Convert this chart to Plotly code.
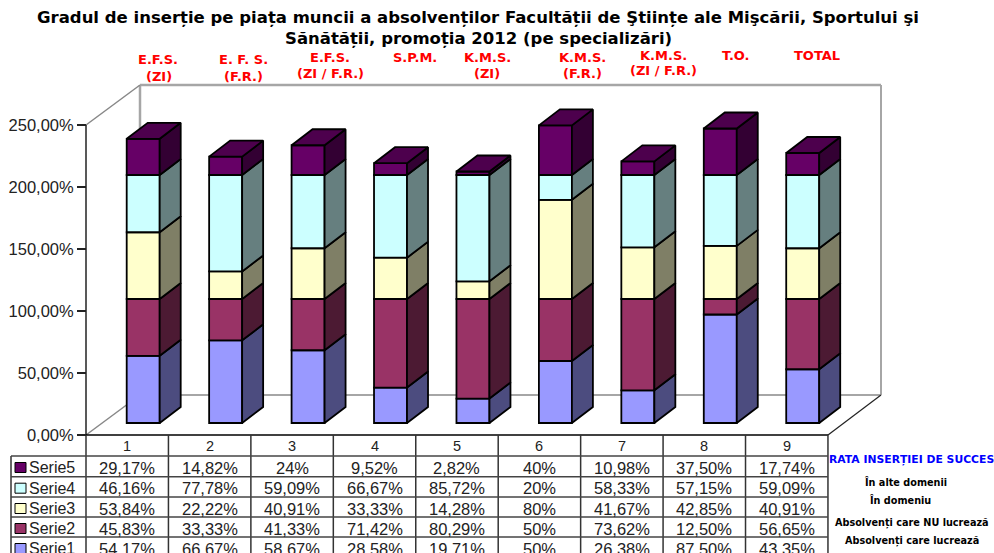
import plotly.graph_objects as go

categories = [1, 2, 3, 4, 5, 6, 7, 8, 9]
serie1 = [54.17, 66.67, 58.67, 28.58, 19.71, 50, 26.38, 87.50, 43.35]
serie2 = [45.83, 33.33, 41.33, 71.42, 80.29, 50, 73.62, 12.50, 56.65]
serie3 = [53.84, 22.22, 40.91, 33.33, 14.28, 80, 41.67, 42.85, 40.91]
serie4 = [46.16, 77.78, 59.09, 66.67, 85.72, 20, 58.33, 57.15, 59.09]
serie5 = [29.17, 14.82, 24, 9.52, 2.82, 40, 10.98, 37.50, 17.74]
series_names = ["Serie1", "Serie2", "Serie3", "Serie4", "Serie5"]
y_ticks = [0, 50, 100, 150, 200, 250]
y_tick_labels = ["0,00%", "50,00%", "100,00%", "150,00%", "200,00%", "250,00%"]
row_notes = ["Absolvenți care lucrează", "Absolvenți care NU lucrează", "În domeniu", "În alte domenii"]
title_lines = ["Gradul de inserție pe piața muncii a absolvenților Facultății de Ştiințe ale Mişcării, Sportului şi",
               "Sănătății, promoția 2012 (pe specializări)"]

series = [serie1, serie2, serie3, serie4, serie5]
front = ["#9999FF", "#993366", "#FFFFCC", "#CCFFFF", "#660066"]
side = ["#4C4C7F", "#4C1A33", "#7F7F66", "#667F7F", "#330033"]
top = "#4D004D"
FONT = "Liberation Sans"
BOLD = "DejaVu Sans"

W, H = 994, 553
X0, PXX = 127.2, 82.44      # pixel of category 1, pixels per category
Y0, PXY = 435.0, 1.24       # pixel of 0 %, pixels per %
dX = 16 / PXX; dV = 12 / PXY          # bar inset from the front of the floor
bw = 33 / PXX                         # bar width
depX = 21 / PXX; depV = 16 / PXY      # bar depth

def px(p): return p / W
def py(p): return 1 - p / H

fig = go.Figure()
cum = [0.0] * len(categories)
for k, vals in enumerate(series):
    fig.add_bar(x=[c + dX for c in categories], y=vals,
                base=[b + dV for b in cum], width=bw, name=series_names[k],
                marker=dict(color=front[k], line=dict(color="black", width=1.8)),
                showlegend=False, hoverinfo="skip")
    xs, ys = [], []
    for c, b, v in zip(categories, cum, vals):
        r = c + dX + bw / 2
        lo, hi = b + dV, b + v + dV
        xs += [r, r + depX, r + depX, r, r, None]
        ys += [lo, lo + depV, hi + depV, hi, lo, None]
    fig.add_scatter(x=xs, y=ys, mode="lines", fill="toself", fillcolor=side[k],
                    line=dict(color="black", width=1.8), showlegend=False, hoverinfo="skip")
    cum = [b + v for b, v in zip(cum, vals)]

xs, ys = [], []
for c, t in zip(categories, cum):
    l = c + dX - bw / 2
    r = c + dX + bw / 2
    hi = t + dV
    xs += [l, r, r + depX, l + depX, l, None]
    ys += [hi, hi, hi + depV, hi + depV, hi, None]
fig.add_scatter(x=xs, y=ys, mode="lines", fill="toself", fillcolor=top,
                line=dict(color="black", width=1.8), showlegend=False, hoverinfo="skip")

shapes = []
def line(x0, y0, x1, y1, color="#222222", width=1.5, layer="below"):
    shapes.append(dict(type="line", xref="paper", yref="paper", x0=px(x0), y0=py(y0), x1=px(x1), y1=py(y1),
                       line=dict(color=color, width=width), layer=layer))

GR = "#A6A6A6"
line(140, 85, 881, 85, GR, 2.5)
line(140, 85, 140, 395, GR, 2.5)
line(881, 85, 881, 395, GR, 2)
line(140, 395, 881, 395, GR, 2)
line(86, 125, 140, 85, "#888888", 1.5)
line(86, 435, 140, 395, "#888888", 1.5)
line(828, 435, 881, 395, "#222222", 1.2)
line(86, 125, 86, 435, "#222222", 1.5)

# data table
col_x = [86 + PXX * i for i in range(10)]
row_y = [456, 476.7, 497, 517, 537]
line(86, 435, 828, 435, "#000000", 1.5)
for i, x in enumerate(col_x):
    line(x, 435, x, 553, "#333333", 1.5)
line(11, 456, 11, 553, "#333333", 1.5)
for y in row_y:
    line(11, y, 828, y, "#444444", 1.5)

ann = []
def text(x, y, s, size=13, color="black", bold=False, family=FONT, anchor="center"):
    if bold:
        s = "<b>" + s + "</b>"
        family = BOLD
    ann.append(dict(xref="paper", yref="paper", x=px(x), y=py(y), text=s, showarrow=False,
                    xanchor=anchor, yanchor="middle", font=dict(size=size, color=color, family=family),
                    align="center", borderpad=0, borderwidth=0))

def fmt(v):
    s = f"{v:g}" if float(v).is_integer() else f"{v:.2f}"
    return s.replace(".", ",") + "%"

for i, c in enumerate(categories):
    cx = col_x[i] + PXX / 2
    text(cx, 446, str(c), 14.5, "#222222")
    for r, vals in enumerate(reversed(series)):
        text(cx, row_y[r] + 11.5, fmt(vals[i]), 16.5, "#222222")

for r, k in enumerate(reversed(range(5))):
    yc = row_y[r] + 11.5
    shapes.append(dict(type="rect", xref="paper", yref="paper", x0=px(15), x1=px(26), y0=py(yc - 5), y1=py(yc + 5),
                       fillcolor=front[k], line=dict(color="black", width=1)))
    text(29, yc, series_names[k], 16, "#222222", anchor="left")

labels = [(158, 59, "E.F.S."), (159, 76, "(ZI)"), (243, 59, "E. F. S."), (243, 76, "(F.R.)"),
          (330, 58, "E.F.S."), (330, 74, "(ZI / F.R.)"), (415, 57, "S.P.M."), (487, 58, "K.M.S."),
          (487, 74, "(ZI)"), (582, 58, "K.M.S."), (582, 74, "(F.R.)"), (663, 55, "K.M.S."),
          (663, 70, "(ZI / F.R.)"), (736, 55, "T.O."), (817, 55, "TOTAL")]
for x, y, s in labels:
    text(x, y, s, 13, "#FF0000", True)

text(911, 459, "RATA INSERȚIEI DE SUCCES", 10.8, "#0000FF", True)
text(906, 482, row_notes[3], 9.7, "black", True)
text(900, 500, row_notes[2], 9.7, "black", True)
text(912, 523, row_notes[1], 9.7, "black", True)
text(912, 541, row_notes[0], 9.7, "black", True)
text(478, 17, title_lines[0], 16.5, "black", True)
text(478, 38, title_lines[1], 16.5, "black", True)

fig.update_layout(
    width=W, height=H, autosize=False, margin=dict(l=0, r=0, t=0, b=0),
    paper_bgcolor="white", plot_bgcolor="white", barmode="overlay", showlegend=False,
    shapes=shapes, annotations=ann,
    xaxis=dict(domain=[0, 1], range=[1 - X0 / PXX, 1 + (W - X0) / PXX], visible=False, fixedrange=True),
    yaxis=dict(domain=[0, 1], range=[(Y0 - H) / PXY, Y0 / PXY], anchor="free", position=px(86),
               tickmode="array", tickvals=y_ticks, ticktext=y_tick_labels, ticks="outside", ticklen=9,
               tickcolor="#222222", tickwidth=1.5, showgrid=False, zeroline=False, showline=False,
               tickfont=dict(family=FONT, size=16.5, color="#222222"), fixedrange=True),
)
fig.write_html("out.html", post_script="document.body.style.margin='0';document.body.style.overflow='hidden';",
               config=dict(displayModeBar=False))
